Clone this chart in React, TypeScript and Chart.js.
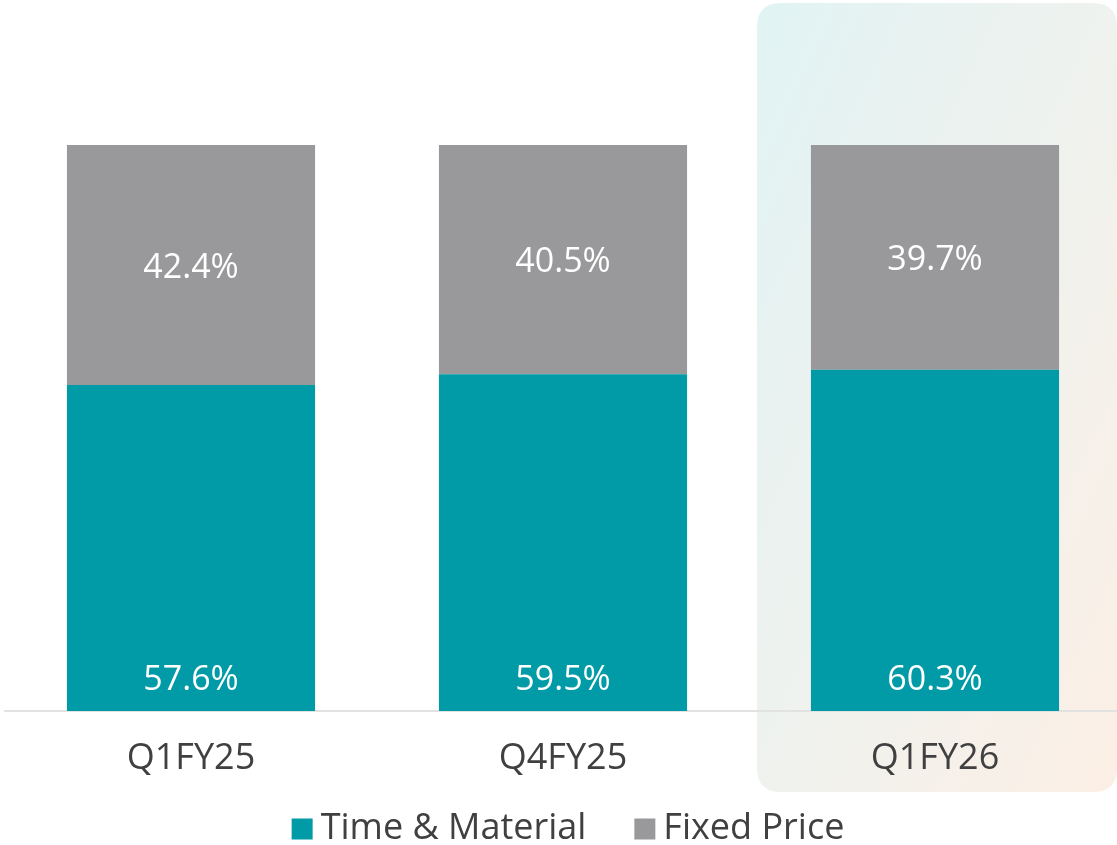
import React, { useEffect, useRef } from 'react';
import { Chart, registerables } from 'chart.js';
Chart.register(...registerables);

const categories = ['Q1FY25', 'Q4FY25', 'Q1FY26'];
const timeMaterial = [57.6, 59.5, 60.3];
const fixedPrice = [42.4, 40.5, 39.7];
const seriesNames = ['Time & Material', 'Fixed Price'];
const seriesColors = ['#009ba7', '#99999b'];
const highlightIndex = 2;

const FONT = '"Open Sans", sans-serif';
const CANVAS_W = 1121;
const CANVAS_H = 845;

const highlightPlugin = {
  id: 'highlight',
  beforeDraw(chart: any) {
    const { ctx, scales } = chart;
    const cx = scales.x.getPixelForValue(highlightIndex);
    const left = cx - 178;
    const right = cx + 182;
    const top = 3;
    const bottom = 792;
    const r = 24;
    const w = right - left;
    const h = bottom - top;
    const mx = (left + right) / 2;
    const my = (top + bottom) / 2;
    const norm = Math.sqrt(w * w + h * h);
    const dx = h / norm;
    const dy = w / norm;
    const half = (w * h) / norm;
    const g = ctx.createLinearGradient(mx - dx * half, my - dy * half, mx + dx * half, my + dy * half);
    g.addColorStop(0, '#e1f3f4');
    g.addColorStop(0.5, '#eff2ee');
    g.addColorStop(1, '#fcefe5');
    ctx.save();
    ctx.fillStyle = g;
    ctx.beginPath();
    ctx.moveTo(left + r, top);
    ctx.lineTo(right - r, top);
    ctx.quadraticCurveTo(right, top, right, top + r);
    ctx.lineTo(right, bottom - r);
    ctx.quadraticCurveTo(right, bottom, right - r, bottom);
    ctx.lineTo(left + r, bottom);
    ctx.quadraticCurveTo(left, bottom, left, bottom - r);
    ctx.lineTo(left, top + r);
    ctx.quadraticCurveTo(left, top, left + r, top);
    ctx.closePath();
    ctx.fill();
    ctx.restore();
  },
};

const labelPlugin = {
  id: 'valueLabels',
  afterDatasetsDraw(chart: any) {
    const { ctx } = chart;
    ctx.save();
    ctx.fillStyle = '#ffffff';
    ctx.font = `34px ${FONT}`;
    ctx.textAlign = 'center';
    ctx.textBaseline = 'middle';
    chart.data.datasets.forEach((ds: any, di: number) => {
      const meta = chart.getDatasetMeta(di);
      meta.data.forEach((bar: any, i: number) => {
        const v = ds.data[i];
        const y = di === 0 ? bar.base - 31 : (bar.y + bar.base) / 2 + 3;
        ctx.fillText(`${v.toFixed(1)}%`, bar.x, y);
      });
    });
    ctx.restore();
  },
};

const legendPlugin = {
  id: 'customLegend',
  afterDraw(chart: any) {
    const { ctx } = chart;
    ctx.save();
    ctx.font = `36px ${FONT}`;
    ctx.textBaseline = 'middle';
    ctx.textAlign = 'left';
    const box = 21;
    const gapText = 8;
    const gapItem = 48;
    const widths = seriesNames.map((n) => ctx.measureText(n).width);
    const total = widths.reduce((a, w) => a + box + gapText + w, 0) + gapItem * (seriesNames.length - 1);
    let x = 568 - total / 2;
    const yc = 829;
    seriesNames.forEach((n, i) => {
      ctx.fillStyle = seriesColors[i];
      ctx.fillRect(x, yc - box / 2, box, box);
      ctx.fillStyle = '#404040';
      ctx.fillText(n, x + box + gapText, yc);
      x += box + gapText + widths[i] + gapItem;
    });
    ctx.restore();
  },
};

export default function App() {
  const ref = useRef<HTMLCanvasElement | null>(null);
  useEffect(() => {
    if (!ref.current) return;
    const chart = new Chart(ref.current, {
      type: 'bar',
      data: {
        labels: categories,
        datasets: [
          { label: seriesNames[0], data: timeMaterial, backgroundColor: seriesColors[0] },
          { label: seriesNames[1], data: fixedPrice, backgroundColor: seriesColors[1] },
        ],
      },
      options: {
        responsive: false,
        animation: false,
        devicePixelRatio: 1,
        layout: { padding: { left: 5, right: 0, top: 145, bottom: 0 } },
        datasets: { bar: { categoryPercentage: 1, barPercentage: 0.667 } },
        plugins: { legend: { display: false }, tooltip: { enabled: false } },
        scales: {
          x: {
            stacked: true,
            grid: { display: false, drawTicks: false },
            border: { display: true, color: '#e2e2e2', width: 2 },
            ticks: { font: { family: FONT, size: 36 }, color: '#404040', padding: 26, autoSkip: false, maxRotation: 0 },
            afterFit: (s: any) => { s.height = 134; },
          },
          y: { stacked: true, display: false, min: 0, max: 100 },
        },
      },
      plugins: [highlightPlugin, labelPlugin, legendPlugin],
    });
    return () => chart.destroy();
  }, []);
  return (
    <div style={{ position: 'fixed', left: 0, top: 0, width: 1117, height: 845, overflow: 'hidden', background: '#fff' }}>
      <canvas ref={ref} width={CANVAS_W} height={CANVAS_H} style={{ width: CANVAS_W, height: CANVAS_H, display: 'block' }} />
    </div>
  );
}
